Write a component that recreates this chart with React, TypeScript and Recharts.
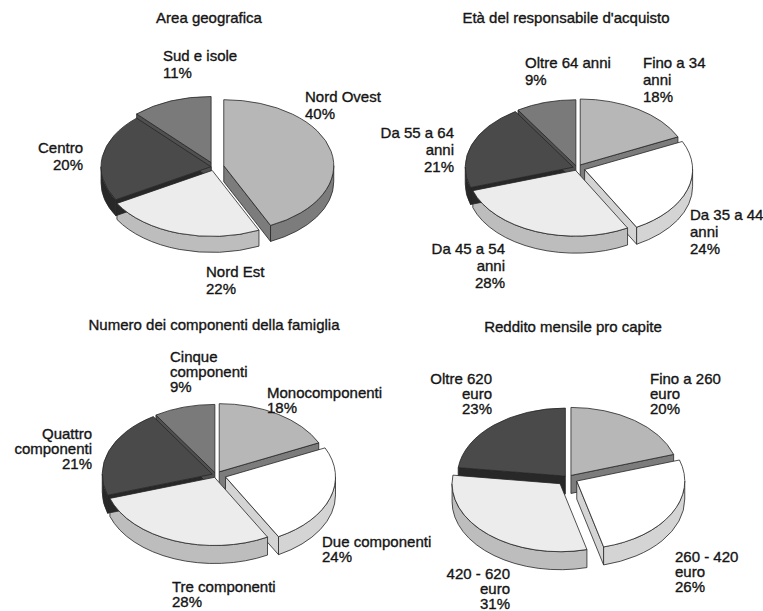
import { PieChart, Pie } from "recharts";

// shares (%) per category, one pair of arrays per pie
const areaNames = ["Nord Ovest", "Nord Est", "Centro", "Sud e isole"];
const areaShares = [40, 22, 20, 11];

const ageNames = ["Fino a 34\nanni", "Da 35 a 44\nanni", "Da 45 a 54\nanni", "Da 55 a 64\nanni", "Oltre 64 anni"];
const ageShares = [18, 24, 28, 21, 9];

const familyNames = ["Monocomponenti", "Due componenti", "Tre componenti", "Quattro\ncomponenti", "Cinque\ncomponenti"];
const familyShares = [18, 24, 28, 21, 9];

const incomeNames = ["Fino a 260\neuro", "260 - 420\neuro", "420 - 620\neuro", "Oltre 620\neuro"];
const incomeShares = [20, 26, 31, 23];

const titles = [
    "Area geografica",
    "Età del responsabile d'acquisto",
    "Numero dei componenti della famiglia",
    "Reddito mensile pro capite",
];

// grey tones: top face / side wall
const LIGHT = ["#b7b7b7", "#7c7c7c"];
const PALE = ["#ececec", "#bdbdbd"];
const WHITE = ["#ffffff", "#d4d4d4"];
const DARK = ["#4a4a4a", "#282828"];
const MID = ["#7a7a7a", "#505050"];

const FONT = "'Liberation Sans', Arial, Helvetica, sans-serif";
const INK = "#151515";
const RAD = Math.PI / 180;

type Spot = { dx: number; dy: number; anchor: "start" | "end" | "middle" };

interface Panel {
    title: string;
    names: string[];
    shares: number[];
    tones: string[][];
    cx: number;
    cy: number;
    r: number;
    k: number; // vertical squash of the tilted disc
    depth: number;
    explode: number[];
    labels: Spot[];
    lh: number;
    titleX: number;
    titleY: number;
}

const panels: Panel[] = [
    {
        title: titles[0],
        names: areaNames,
        shares: areaShares,
        tones: [LIGHT, PALE, DARK, MID],
        cx: 214, cy: 167, r: 110, k: 0.6, depth: 16,
        explode: [10, 6, 3, 8],
        labels: [
            { dx: 91, dy: -65, anchor: "start" },
            { dx: -8, dy: 110, anchor: "start" },
            { dx: -131, dy: -14, anchor: "end" },
            { dx: -51, dy: -106, anchor: "start" },
        ],
        lh: 17,
        titleX: 209, titleY: 23,
    },
    {
        title: titles[1],
        names: ageNames,
        shares: ageShares,
        tones: [LIGHT, WHITE, PALE, DARK, MID],
        cx: 577, cy: 168, r: 108, k: 0.61, depth: 17,
        explode: [6, 8, 4, 4, 4],
        labels: [
            { dx: 66, dy: -100, anchor: "start" },
            { dx: 113, dy: 52, anchor: "start" },
            { dx: -72, dy: 86, anchor: "end" },
            { dx: -123, dy: -30, anchor: "end" },
            { dx: -52, dy: -100, anchor: "start" },
        ],
        lh: 17,
        titleX: 566, titleY: 23,
    },
    {
        title: titles[2],
        names: familyNames,
        shares: familyShares,
        tones: [LIGHT, WHITE, PALE, DARK, MID],
        cx: 216, cy: 475, r: 110, k: 0.62, depth: 18,
        explode: [6, 10, 4, 4, 4],
        labels: [
            { dx: 51, dy: -77, anchor: "start" },
            { dx: 106, dy: 72, anchor: "start" },
            { dx: -44, dy: 117, anchor: "start" },
            { dx: -124, dy: -36, anchor: "end" },
            { dx: -46, dy: -113, anchor: "start" },
        ],
        lh: 15,
        titleX: 214, titleY: 330,
    },
    {
        title: titles[3],
        names: incomeNames,
        shares: incomeShares,
        tones: [LIGHT, WHITE, PALE, DARK],
        cx: 568, cy: 478, r: 108, k: 0.63, depth: 18,
        explode: [5, 10, 12, 4],
        labels: [
            { dx: 82, dy: -94, anchor: "start" },
            { dx: 107, dy: 84, anchor: "start" },
            { dx: -58, dy: 101, anchor: "end" },
            { dx: -76, dy: -94, anchor: "end" },
        ],
        lh: 15,
        titleX: 573, titleY: 332,
    },
];

const pt = (cx: number, cy: number, r: number, k: number, a: number): [number, number] => [
    cx + r * Math.cos(a * RAD),
    cy - r * k * Math.sin(a * RAD),
];

// angular windows where the outer wall faces the viewer (sin < 0)
const FRONT = [[-540, -360], [-180, 0], [180, 360]];

function geometry(panel: Panel, p: any) {
    const i = p.payload?.i ?? p.i ?? 0;
    const hi = Math.max(p.startAngle, p.endAngle);
    const lo = Math.min(p.startAngle, p.endAngle);
    const mid = (hi + lo) / 2;
    const e = panel.explode[i] ?? 0;
    const cx = p.cx + e * Math.cos(mid * RAD);
    const cy = p.cy - e * panel.k * Math.sin(mid * RAD);
    return { i, hi, lo, cx, cy, r: p.outerRadius };
}

const sideShape = (panel: Panel) => (p: any) => {
    const { i, hi, lo, cx, cy, r } = geometry(panel, p);
    const k = panel.k;
    const d = panel.depth;
    const side = panel.tones[i][1];
    const paths: string[] = [];

    const face = (a: number) => {
        const [x, y] = pt(cx, cy, r, k, a);
        return `M${cx},${cy} L${x},${y} L${x},${y + d} L${cx},${cy + d} Z`;
    };
    if (Math.cos(lo * RAD) > 1e-6) paths.push(face(lo));
    if (Math.cos(hi * RAD) < -1e-6) paths.push(face(hi));

    FRONT.forEach(([f1, f2]) => {
        const b1 = Math.max(lo, f1);
        const b2 = Math.min(hi, f2);
        if (b2 - b1 < 0.5) return;
        const [x2, y2] = pt(cx, cy, r, k, b2);
        const [x1, y1] = pt(cx, cy, r, k, b1);
        paths.push(
            `M${x2},${y2} A${r},${r * k} 0 0 1 ${x1},${y1} L${x1},${y1 + d} A${r},${r * k} 0 0 0 ${x2},${y2 + d} Z`
        );
    });

    return (
        <g>
            {paths.map((dPath, j) => (
                <path key={j} d={dPath} fill={side} stroke="#262626" strokeWidth={0.8} strokeLinejoin="round" />
            ))}
        </g>
    );
};

const topShape = (panel: Panel) => (p: any) => {
    const { i, hi, lo, cx, cy, r } = geometry(panel, p);
    const k = panel.k;
    const [x1, y1] = pt(cx, cy, r, k, hi);
    const [x2, y2] = pt(cx, cy, r, k, lo);
    const large = hi - lo > 180 ? 1 : 0;
    return (
        <path
            d={`M${cx},${cy} L${x1},${y1} A${r},${r * k} 0 ${large} 1 ${x2},${y2} Z`}
            fill={panel.tones[i][0]}
            stroke="#262626"
            strokeWidth={0.8}
            strokeLinejoin="round"
        />
    );
};

const sliceLabel = (panel: Panel) => (p: any) => {
    const i = p.index ?? p.payload?.i ?? 0;
    const spot = panel.labels[i];
    const x = panel.cx + spot.dx;
    const lines = [...panel.names[i].split("\n"), `${panel.shares[i]}%`];
    return (
        <text
            key={`lbl-${i}`}
            x={x}
            y={panel.cy + spot.dy}
            textAnchor={spot.anchor}
            fontFamily={FONT}
            fontSize={15}
            fill={INK}
            stroke={INK}
            strokeWidth={0.35}
        >
            {lines.map((line, j) => (
                <tspan key={j} x={x} dy={j === 0 ? 0 : panel.lh}>
                    {line}
                </tspan>
            ))}
        </text>
    );
};

export default function App() {
    return (
        <div style={{ position: "absolute", left: 0, top: 0, width: 763, height: 611, background: "#fff" }}>
            <PieChart width={763} height={611} margin={{ top: 0, right: 0, bottom: 0, left: 0 }}>
                {panels.flatMap((panel, pi) => {
                    const rows = panel.names.map((name, i) => ({ name, value: panel.shares[i], i }));
                    const common = {
                        data: rows,
                        dataKey: "value",
                        nameKey: "name",
                        cx: panel.cx,
                        cy: panel.cy,
                        outerRadius: panel.r,
                        startAngle: 90,
                        endAngle: -270,
                        isAnimationActive: false,
                        stroke: "none",
                    };
                    return [
                        <Pie key={`side-${pi}`} {...common} shape={sideShape(panel)} labelLine={false} label={false} />,
                        <Pie
                            key={`top-${pi}`}
                            {...common}
                            shape={topShape(panel)}
                            labelLine={false}
                            label={sliceLabel(panel)}
                        />,
                    ];
                })}
            </PieChart>
            {panels.map((panel, pi) => (
                <div
                    key={pi}
                    style={{
                        position: "absolute",
                        left: panel.titleX - 200,
                        width: 400,
                        top: panel.titleY - 14,
                        textAlign: "center",
                        fontFamily: FONT,
                        fontSize: 15,
                        lineHeight: "18px",
                        color: INK,
                        WebkitTextStroke: "0.35px " + INK,
                    }}
                >
                    {panel.title}
                </div>
            ))}
        </div>
    );
}
